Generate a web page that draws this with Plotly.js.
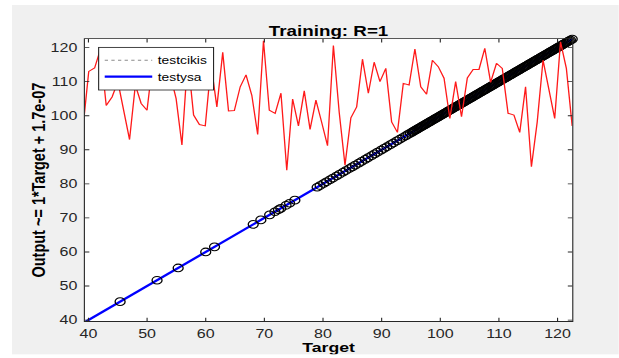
<!DOCTYPE html>
<html>
<head>
<meta charset="utf-8">
<script src="https://cdn.plot.ly/plotly-3.0.1.min.js"></script>
<style>
html, body { margin: 0; padding: 0; background: #ffffff; overflow: hidden; }
#chart { position: absolute; left: 12px; top: 5px; width: 549px; height: 410px;
         transform: scale(1.105, 0.852); transform-origin: 0 0; }
</style>
</head>
<body>
<div id="chart"></div>
<script>
// ---- data ----
const tickValues = [40, 50, 60, 70, 80, 90, 100, 110, 120];
const tickLabels = ['40', '50', '60', '70', '80', '90', '100', '110', '120'];

// target values of the training samples (circles)
const targets = [
  39.6, 45.4, 51.7, 55.3, 60.0, 61.5, 68.1, 69.4, 70.9, 71.8, 72.4, 72.8, 73.7, 74.3, 75.2,
  79.0, 79.5, 80.1, 80.6, 81.2, 81.7, 82.3, 82.8, 83.4, 83.9, 84.5, 85.0, 85.5, 86.1,
  86.6, 87.2, 87.7, 88.3, 88.8, 89.3, 89.9, 90.4, 90.9, 91.5, 92.0, 92.6, 93.1, 93.6,
  94.1, 94.5, 94.9,
  95.2, 95.4, 95.6, 95.8, 96.0, 96.2, 96.4, 96.6, 96.8, 97.0, 97.2, 97.4, 97.6, 97.8,
  98.0, 98.2, 98.4, 98.6, 98.8, 99.0, 99.2, 99.4, 99.6, 99.8, 100.0, 100.2, 100.4, 100.6,
  100.8, 101.0, 101.2, 101.4, 101.6, 101.8, 102.0, 102.2, 102.4, 102.6, 102.8, 103.0,
  103.2, 103.4, 103.6, 103.8, 104.0, 104.2, 104.4, 104.6, 104.8, 105.0, 105.2, 105.4,
  105.6, 105.8, 106.0, 106.2, 106.4, 106.6, 106.8, 107.0, 107.2, 107.4, 107.6, 107.8,
  108.0, 108.2, 108.4, 108.6, 108.8, 109.0, 109.2, 109.4, 109.6, 109.8, 110.0, 110.2,
  110.4, 110.6, 110.8, 111.0, 111.2, 111.4, 111.6, 111.8, 112.0, 112.2, 112.4, 112.6,
  112.8, 113.0, 113.2, 113.4, 113.6, 113.8, 114.0, 114.2, 114.4, 114.6, 114.8, 115.0,
  115.2, 115.4, 115.6, 115.8, 116.0, 116.2, 116.4, 116.6, 116.8, 117.0, 117.2, 117.4,
  117.6, 117.8, 118.0, 118.2, 118.4, 118.6, 118.8, 119.0, 119.2, 119.4, 119.6, 119.8,
  120.0, 120.2, 120.4, 120.6, 120.8, 121.0, 121.2, 121.4, 121.6, 121.8, 122.0, 122.2,
  122.5
];
// network outputs (R = 1: outputs coincide with targets)
const outputs = targets;

// fit line (testysa) and Y = T line (testcikis) end points
const fitX = [39.6, 122.5];
const fitY = [39.6, 122.5];
const idealX = [39.6, 122.5];
const idealY = [39.6, 122.5];

// red series
const redX = [
  39.06, 40.05, 41.05, 42.04, 43.03, 44.03, 45.02, 46.01, 47.01, 48.00,
  48.99, 49.99, 50.98, 51.97, 52.96, 53.96, 54.95, 55.94, 56.94, 57.93,
  58.92, 59.92, 60.91, 61.90, 62.90, 63.89, 64.88, 65.88, 66.87, 67.86,
  68.86, 69.85, 70.84, 71.84, 72.83, 73.82, 74.82, 75.81, 76.80, 77.79,
  78.79, 79.78, 80.77, 81.77, 82.76, 83.75, 84.75, 85.74, 86.73, 87.73,
  88.72, 89.71, 90.71, 91.70, 92.69, 93.69, 94.68, 95.67, 96.67, 97.66,
  98.65, 99.65, 100.64, 101.63, 102.62, 103.62, 104.61, 105.60, 106.60, 107.59,
  108.58, 109.58, 110.57, 111.56, 112.56, 113.55, 114.54, 115.54, 116.53, 117.52,
  118.52, 119.51, 120.50, 121.50, 122.49
];
const redY = [
  96.4, 113, 114, 119.5, 103, 105.5, 110, 101, 93, 109,
  103.6, 101.6, 116, 111.4, 117, 112, 105, 91.4, 117, 100.2,
  97.4, 97, 115, 102.6, 118.6, 101.4, 101.5, 108.5, 112, 106,
  94.5, 122, 101.6, 100.7, 106.6, 84, 104.9, 97, 107.3, 96,
  104.6, 98, 91.2, 120.6, 101, 85.5, 99.4, 102.6, 116.6, 106.6,
  115.7, 110, 113.9, 98.2, 95.1, 109.5, 109, 119.6, 108.5, 106.3,
  116.3, 114.4, 111, 99.2, 110, 99.7, 111.1, 113.6, 113.6, 119.8,
  109.8, 115.4, 113.9, 100.7, 100.2, 95.1, 108.5, 85, 98.2, 116.3,
  108, 99.2, 121.7, 113.9, 97
];

// ---- chart ----
const FONT = 'Liberation Sans, Arial, Helvetica, sans-serif';

const traces = [
  { x: idealX, y: idealY, type: 'scatter', mode: 'lines', name: 'testcikis',
    line: { color: '#8c8c8c', width: 1, dash: 'dot' } },
  { x: fitX, y: fitY, type: 'scatter', mode: 'lines', name: 'testysa',
    line: { color: '#0000ff', width: 2.5 } },
  { x: targets, y: outputs, type: 'scatter', mode: 'markers', name: 'Data',
    showlegend: false, cliponaxis: false,
    marker: { symbol: 'circle-open', size: 9, color: '#000000', line: { width: 1.2, color: '#000000' } } },
  { x: redX, y: redY, type: 'scatter', mode: 'lines', name: 'red',
    showlegend: false,
    line: { color: '#ff1a1a', width: 1.2 } }
];

function axis(extra) {
  return Object.assign({
    showline: true, linecolor: '#262626', linewidth: 1, mirror: 'ticks',
    ticks: 'inside', ticklen: 4, tickwidth: 1, tickcolor: '#262626',
    showgrid: false, zeroline: false, fixedrange: true,
    tickmode: 'array', tickvals: tickValues, ticktext: tickLabels,
    tickfont: { family: FONT, size: 14.5, color: '#262626' }
  }, extra);
}

const layout = {
  width: 549, height: 410,
  margin: { l: 66, r: 42, t: 40, b: 39, autoexpand: false },
  paper_bgcolor: '#f0f0f0', plot_bgcolor: '#ffffff',
  title: { text: 'Training: R=1', font: { family: FONT, size: 17, color: '#000000', weight: 'bold' },
           xref: 'paper', x: 0.5, xanchor: 'center', yref: 'container', y: 0.925, yanchor: 'middle' },
  xaxis: axis({ range: [39.4, 122.5], ticklabelstandoff: 2,
    title: { text: 'Target', font: { family: FONT, size: 16, color: '#000000', weight: 'bold' }, standoff: 4 } }),
  yaxis: axis({ range: [39.7, 122.5], ticklabelstandoff: 3,
    title: { text: 'Output ~= 1*Target + 1.7e-07', font: { family: FONT, size: 17, color: '#000000', weight: 'bold' }, standoff: 0 } }),
  showlegend: true,
  legend: { x: 0.027, y: 0.972, xanchor: 'left', yanchor: 'top',
            bgcolor: '#ffffff', bordercolor: '#262626', borderwidth: 1,
            font: { family: FONT, size: 12.5, color: '#000000' },
            itemwidth: 43, tracegroupgap: 0 }
};

Plotly.newPlot('chart', traces, layout, { staticPlot: true, displayModeBar: false });
</script>
</body>
</html>
